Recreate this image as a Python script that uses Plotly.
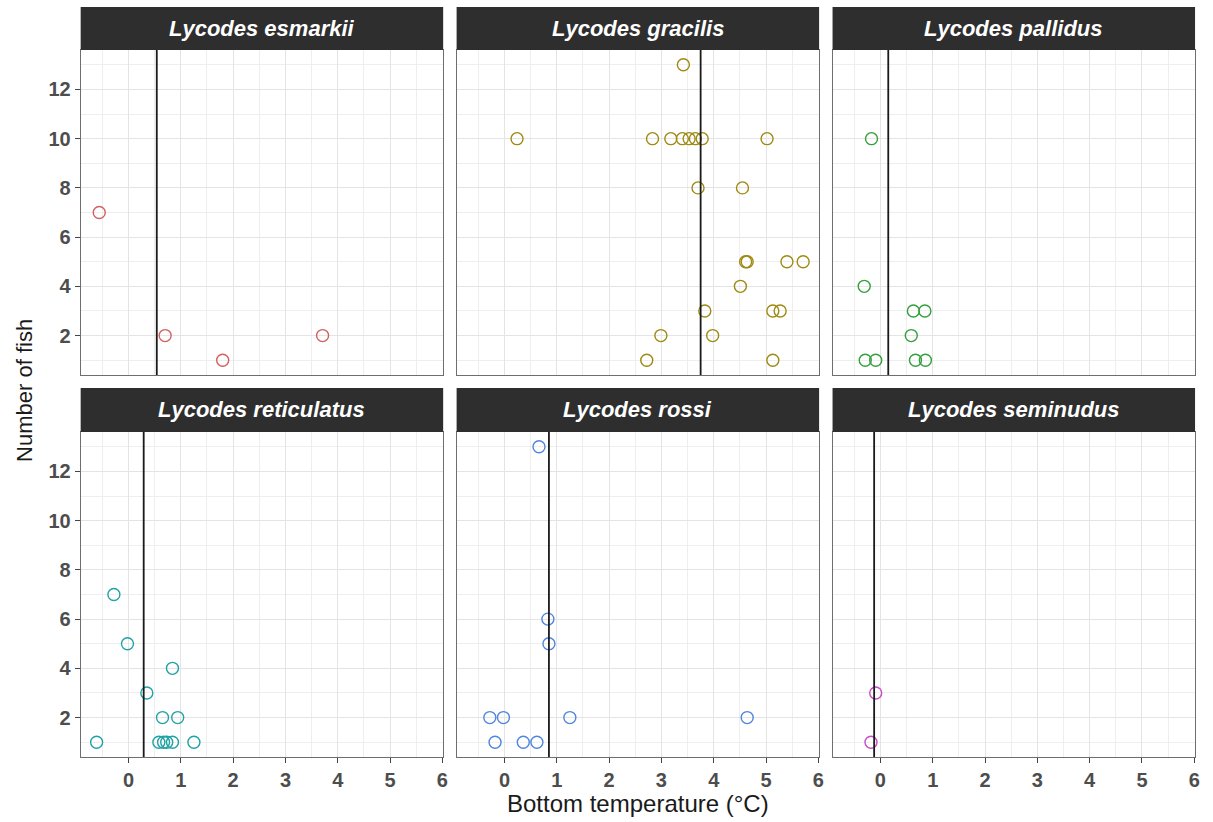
import plotly.graph_objects as go

W, H = 1213, 822

species = ["Lycodes esmarkii", "Lycodes gracilis", "Lycodes pallidus",
           "Lycodes reticulatus", "Lycodes rossi", "Lycodes seminudus"]
colors = ["#D2605F", "#9E8A12", "#33A03C", "#22A2A4", "#4F86DD", "#C74CC6"]

esmarkii_temp = [-0.56, 0.70, 1.80, 3.71]
esmarkii_n = [7, 2, 1, 2]
gracilis_temp = [3.42, 0.24, 2.83, 3.18, 3.40, 3.53, 3.65, 3.78, 5.02, 3.70, 4.55,
                 4.61, 4.64, 5.40, 5.71, 4.51, 3.83, 5.13, 5.27, 2.99, 3.98, 2.72, 5.13]
gracilis_n = [13, 10, 10, 10, 10, 10, 10, 10, 10, 8, 8,
              5, 5, 5, 5, 4, 3, 3, 3, 2, 2, 1, 1]
pallidus_temp = [-0.17, -0.31, 0.63, 0.85, 0.59, -0.29, -0.09, 0.67, 0.86]
pallidus_n = [10, 4, 3, 3, 2, 1, 1, 1, 1]
reticulatus_temp = [-0.28, -0.02, 0.84, 0.35, 0.65, 0.94, -0.61, 0.58, 0.67, 0.73, 0.84, 1.25]
reticulatus_n = [7, 5, 4, 3, 2, 2, 1, 1, 1, 1, 1, 1]
rossi_temp = [0.66, 0.83, 0.85, -0.28, -0.02, 1.25, 4.64, -0.18, 0.36, 0.62]
rossi_n = [13, 6, 5, 2, 2, 2, 2, 1, 1, 1]
seminudus_temp = [-0.09, -0.18]
seminudus_n = [3, 1]

mean_temp = [0.54, 3.75, 0.15, 0.29, 0.85, -0.12]

x_ticks = [0, 1, 2, 3, 4, 5, 6]
y_ticks = [2, 4, 6, 8, 10, 12]

temps = [esmarkii_temp, gracilis_temp, pallidus_temp, reticulatus_temp, rossi_temp, seminudus_temp]
counts = [esmarkii_n, gracilis_n, pallidus_n, reticulatus_n, rossi_n, seminudus_n]

# layout in pixels
col_px = [(81, 445), (458.5, 822.5), (836, 1200)]
row_plot_px = [(50, 375), (432, 757)]
row_strip_px = [(7, 50), (388, 432)]

def px_x(p):
    return p / W

def px_y(p):
    return 1 - p / H

FONT = "Liberation Sans, Arial, sans-serif"
fig = go.Figure()
layout = dict(width=W, height=H, margin=dict(l=0, r=0, t=0, b=0),
              paper_bgcolor="white", plot_bgcolor="white", showlegend=False,
              font=dict(family=FONT))
shapes = []
annotations = []

for i, sp in enumerate(species):
    r, c = divmod(i, 3)
    k = i + 1
    xa = "x" if k == 1 else f"x{k}"
    ya = "y" if k == 1 else f"y{k}"
    xkey = "xaxis" if k == 1 else f"xaxis{k}"
    ykey = "yaxis" if k == 1 else f"yaxis{k}"
    x0, x1 = col_px[c]
    yt, yb = row_plot_px[r]
    grid = "#E4E4E4"
    layout[xkey] = dict(
        domain=[px_x(x0), px_x(x1)], anchor=ya, range=[-0.915, 6.015],
        tickvals=x_ticks, ticktext=[str(v) for v in x_ticks],
        showgrid=True, gridcolor=grid, gridwidth=1.4,
        minor=dict(dtick=0.5, tick0=0, showgrid=True, gridcolor="#EEEEEE", gridwidth=0.9),
        zeroline=False, showline=True, mirror=True, linecolor="#6E6E6E", linewidth=1,
        ticks="outside" if r == 1 else "", ticklen=5, tickcolor="#444444", tickwidth=1,
        showticklabels=(r == 1),
        tickfont=dict(family=FONT, size=20, color="#4D4D4D", weight="bold"),
        fixedrange=True)
    layout[ykey] = dict(
        domain=[px_y(yb), px_y(yt)], anchor=xa, range=[0.4, 13.6],
        tickvals=y_ticks, ticktext=[str(v) for v in y_ticks],
        showgrid=True, gridcolor=grid, gridwidth=1.4,
        minor=dict(dtick=1, tick0=0, showgrid=True, gridcolor="#EEEEEE", gridwidth=0.9),
        zeroline=False, showline=True, mirror=True, linecolor="#6E6E6E", linewidth=1,
        ticks="outside" if c == 0 else "", ticklen=5, tickcolor="#444444", tickwidth=1,
        showticklabels=(c == 0),
        tickfont=dict(family=FONT, size=20, color="#4D4D4D", weight="bold"),
        fixedrange=True)

    fig.add_trace(go.Scatter(
        x=temps[i], y=counts[i], mode="markers", xaxis=xa, yaxis=ya,
        marker=dict(symbol="circle-open", size=12, color=colors[i],
                    line=dict(width=1.4, color=colors[i])),
        name=sp, hoverinfo="x+y"))

    shapes.append(dict(type="line", xref=xa, yref=f"{ya} domain",
                       x0=mean_temp[i], x1=mean_temp[i], y0=0, y1=1,
                       line=dict(color="#1A1A1A", width=1.8), layer="above"))

    st, sb = row_strip_px[r]
    shapes.append(dict(type="rect", xref="paper", yref="paper",
                       x0=px_x(x0), x1=px_x(x1), y0=px_y(sb), y1=px_y(st),
                       fillcolor="#2E2E2E", line=dict(width=0)))
    annotations.append(dict(text=f"<b><i>{sp}</i></b>", xref="paper", yref="paper",
                            x=px_x((x0 + x1) / 2), y=px_y((st + sb) / 2),
                            xanchor="center", yanchor="middle", showarrow=False,
                            font=dict(family=FONT, size=22, color="white")))

annotations.append(dict(text="Bottom temperature (°C)", xref="paper", yref="paper",
                        x=px_x(640.5), y=px_y(803), xanchor="center", yanchor="middle",
                        showarrow=False, font=dict(family=FONT, size=24, color="#1A1A1A")))
annotations.append(dict(text="Number of fish", xref="paper", yref="paper",
                        x=px_x(24), y=px_y(390), xanchor="center", yanchor="middle",
                        textangle=-90, showarrow=False,
                        font=dict(family=FONT, size=22, color="#1A1A1A")))

layout["shapes"] = shapes
layout["annotations"] = annotations
fig.update_layout(**layout)
fig.write_html("out.html")
